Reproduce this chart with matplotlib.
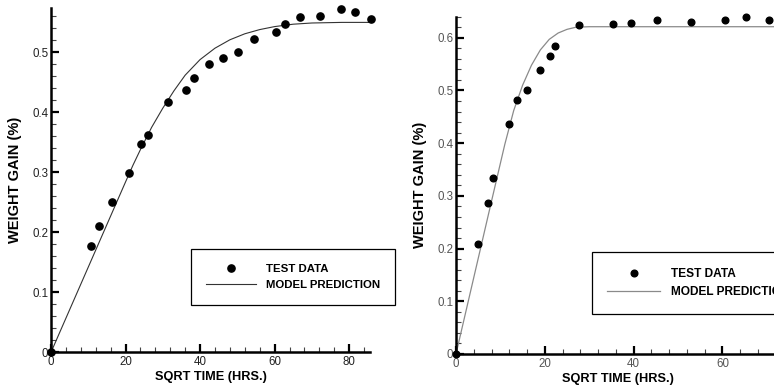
import matplotlib
matplotlib.use("Agg")
import matplotlib.pyplot as plt
from matplotlib.ticker import MultipleLocator

# ---- Left panel: test data and model prediction ----
left_test_x = [0, 10.8, 13.0, 16.4, 20.8, 24.2, 26.1, 31.5, 36.1, 38.3, 42.3, 46.2,
               50.1, 54.4, 60.3, 62.9, 66.8, 72.2, 77.7, 81.6, 85.9]
left_test_y = [0, 0.177, 0.211, 0.251, 0.299, 0.348, 0.362, 0.418, 0.437, 0.458, 0.480,
               0.490, 0.501, 0.523, 0.534, 0.547, 0.559, 0.561, 0.572, 0.567, 0.556]
left_model_x = [0, 5, 10, 15, 20, 22, 24, 27, 30, 33, 36, 40, 44, 48, 52, 56, 60, 65, 70, 78, 86]
left_model_y = [0, 0.071, 0.142, 0.213, 0.284, 0.312, 0.338, 0.375, 0.407, 0.436, 0.462,
                0.488, 0.507, 0.521, 0.531, 0.538, 0.543, 0.547, 0.549, 0.550, 0.550]

# ---- Right panel: test data and model prediction ----
right_test_x = [0, 5.0, 7.1, 8.4, 11.9, 13.7, 16.0, 18.9, 21.2, 22.3, 27.6, 35.3,
                39.4, 45.3, 52.9, 60.6, 65.3, 70.6]
right_test_y = [0, 0.209, 0.287, 0.333, 0.436, 0.481, 0.500, 0.538, 0.565, 0.584, 0.624,
                0.626, 0.628, 0.633, 0.629, 0.633, 0.639, 0.634]
right_model_x = [0, 4, 8, 11, 13, 15, 17, 19, 21, 23, 25, 27, 30, 40, 60, 80]
right_model_y = [0, 0.145, 0.290, 0.398, 0.462, 0.510, 0.548, 0.577, 0.597, 0.609, 0.616,
                 0.620, 0.621, 0.621, 0.621, 0.621]

legend_labels = ["TEST DATA", "MODEL PREDICTION"]
x_label = "SQRT TIME (HRS.)"
y_label = "WEIGHT GAIN (%)"

FONT = "Liberation Sans"

fig = plt.figure(figsize=(7.74, 3.87), dpi=100)
fig.patch.set_facecolor("white")


def yfmt(v, p):
    if abs(v) < 1e-9:
        return "0"
    return f"{v:.1f}"


def style_axes(ax, xlim, ylim, ylabelpad, tick_color):
    ax.set_xlim(*xlim)
    ax.set_ylim(*ylim)
    for side in ("top", "right"):
        ax.spines[side].set_visible(False)
    for side in ("left", "bottom"):
        ax.spines[side].set_linewidth(1.8)
        ax.spines[side].set_color("black")
    ax.xaxis.set_major_locator(MultipleLocator(20))
    ax.xaxis.set_minor_locator(MultipleLocator(4))
    ax.yaxis.set_major_locator(MultipleLocator(0.1))
    ax.yaxis.set_minor_locator(MultipleLocator(0.02))
    ax.tick_params(which="major", direction="in", length=6, width=1.6, color="black")
    ax.tick_params(which="minor", direction="in", length=3.5, width=0.8, color="#444444")
    ax.tick_params(axis="x", which="major", pad=3)
    ax.tick_params(axis="y", which="major", pad=2)
    ax.yaxis.set_major_formatter(plt.FuncFormatter(yfmt))
    ax.xaxis.set_major_formatter(plt.FuncFormatter(lambda v, p: f"{v:.0f}"))
    for lab in ax.get_xticklabels() + ax.get_yticklabels():
        lab.set_fontfamily(FONT)
        lab.set_fontsize(8.3)
        lab.set_color(tick_color)
    ax.set_xlabel(x_label, fontfamily=FONT, fontweight="bold", fontsize=9.2, labelpad=2)
    ax.set_ylabel(y_label, fontfamily=FONT, fontweight="bold", fontsize=10.5,
                  labelpad=ylabelpad)


# Left axes
axL = fig.add_axes([51 / 774, (387 - 352.3) / 387, 319 / 774, 344.3 / 387])
axL.plot(left_model_x, left_model_y, color="#333333", linewidth=0.8,
         label=legend_labels[1], clip_on=True)
axL.plot(left_test_x, left_test_y, linestyle="none", marker="o", markersize=5.2,
         color="black", label=legend_labels[0], clip_on=False, zorder=5)
style_axes(axL, (0, 85.6), (0, 0.574), 7, "#222222")

# Right axes (runs past the right edge of the figure)
axR = fig.add_axes([456 / 774, (387 - 354) / 387, 73 * 4.44 / 774, 337.3 / 387])
axR.plot(right_model_x, right_model_y, color="#8a8a8a", linewidth=0.9,
         label=legend_labels[1], clip_on=True)
axR.plot(right_test_x, right_test_y, linestyle="none", marker="o", markersize=4.8,
         color="black", label=legend_labels[0], clip_on=False, zorder=5)
style_axes(axR, (0, 73), (0, 0.64), 7.5, "#555555")

legend_specs = ((axL, (0.439, 0.299), 8.2), (axR, (0.419, 0.3015), 8.6))
for ax, anchor, size in legend_specs:
    h, l = ax.get_legend_handles_labels()
    order = [1, 0]
    leg = ax.legend([h[i] for i in order], [l[i] for i in order], loc="upper left",
                    bbox_to_anchor=anchor, borderaxespad=0, frameon=True, fancybox=False,
                    edgecolor="black", framealpha=1, handlelength=4.4, handletextpad=0.9,
                    borderpad=1.3, labelspacing=0.55,
                    prop={"family": FONT, "weight": "bold", "size": size})
    leg.get_frame().set_linewidth(0.9)

fig.savefig("out.png", dpi=100, facecolor="white")
